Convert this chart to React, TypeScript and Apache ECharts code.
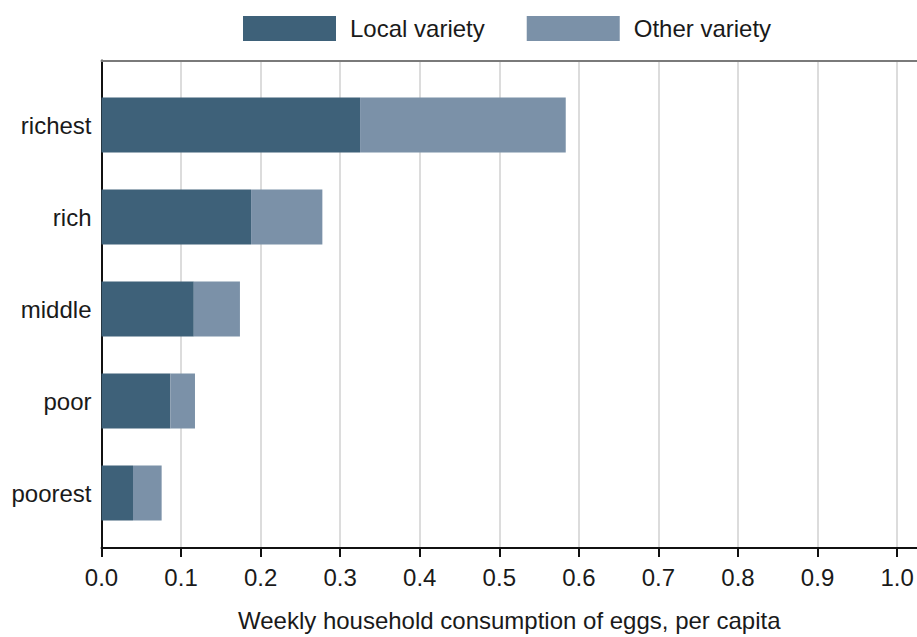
import React, { useEffect, useRef } from "react";
import * as echarts from "echarts";

const categories = ["richest", "rich", "middle", "poor", "poorest"];
const localVariety = [0.325, 0.188, 0.116, 0.0865, 0.0396];
const otherVariety = [0.2585, 0.0896, 0.058, 0.031, 0.036];
const seriesNames = ["Local variety", "Other variety"];
const axisTitle = "Weekly household consumption of eggs, per capita";

const FONT = "'Liberation Sans', Arial, sans-serif";
const X_MAX = 1.025;

export default function App() {
  const ref = useRef<HTMLDivElement>(null);
  useEffect(() => {
    if (!ref.current) return;
    const chart = echarts.init(ref.current, undefined, { renderer: "svg" });
    chart.setOption({
      animation: false,
      backgroundColor: "#ffffff",
      textStyle: { fontFamily: FONT },
      legend: {
        left: 238,
        top: 11,
        itemWidth: 93,
        itemHeight: 25,
        itemGap: 42,
        icon: "rect",
        data: seriesNames,
        textStyle: { fontSize: 24, color: "#1a1a1a", fontFamily: FONT, padding: [0, 0, 0, 9] },
      },
      grid: [
        { left: 101.5, right: 0, top: 60.5, bottom: 82 },
        { left: 101.5, right: 0, top: 79, bottom: 98 },
      ],
      xAxis: [
        {
          gridIndex: 0,
          type: "value",
          min: 0,
          max: X_MAX,
          interval: 0.1,
          position: "bottom",
          axisLine: { show: true, onZero: false, lineStyle: { color: "#111", width: 2 } },
          axisTick: { show: true, length: 9, lineStyle: { color: "#111", width: 2 } },
          axisLabel: {
            fontSize: 24,
            color: "#1a1a1a",
            margin: 17,
            fontFamily: FONT,
            showMaxLabel: false,
            formatter: (v: number) => v.toFixed(1),
          },
          splitLine: { show: true, showMaxLine: false, lineStyle: { color: "#dcdcdc", width: 2 } },
          name: axisTitle,
          nameLocation: "middle",
          nameGap: 60,
          nameTextStyle: { fontSize: 24, color: "#1a1a1a", fontFamily: FONT },
        },
        {
          gridIndex: 0,
          type: "value",
          min: 0,
          max: X_MAX,
          position: "top",
          axisLine: { show: true, onZero: false, lineStyle: { color: "#7a7a7a", width: 2 } },
          axisTick: { show: false },
          axisLabel: { show: false },
          splitLine: { show: false },
        },
        {
          gridIndex: 1,
          type: "value",
          min: 0,
          max: X_MAX,
          show: false,
        },
      ],
      yAxis: [
        {
          gridIndex: 0,
          type: "value",
          min: 0,
          max: 1,
          axisLine: { show: true, onZero: false, lineStyle: { color: "#111", width: 2 } },
          axisTick: { show: false },
          axisLabel: { show: false },
          splitLine: { show: false },
        },
        {
          gridIndex: 1,
          type: "category",
          inverse: true,
          data: categories,
          axisLine: { show: false },
          axisTick: { show: false },
          axisLabel: { fontSize: 24, color: "#1a1a1a", margin: 10, fontFamily: FONT },
          splitLine: { show: false },
        },
      ],
      series: [
        {
          name: seriesNames[0],
          type: "bar",
          stack: "total",
          xAxisIndex: 2,
          yAxisIndex: 1,
          barWidth: 55,
          itemStyle: { color: "#3e6179" },
          data: localVariety,
        },
        {
          name: seriesNames[1],
          type: "bar",
          stack: "total",
          xAxisIndex: 2,
          yAxisIndex: 1,
          barWidth: 55,
          itemStyle: { color: "#7b91a8" },
          data: otherVariety,
        },
      ],
    });
    return () => chart.dispose();
  }, []);
  return (
    <div
      ref={ref}
      style={{ position: "fixed", left: 0, top: 0, width: 917, height: 637, background: "#fff" }}
    />
  );
}
